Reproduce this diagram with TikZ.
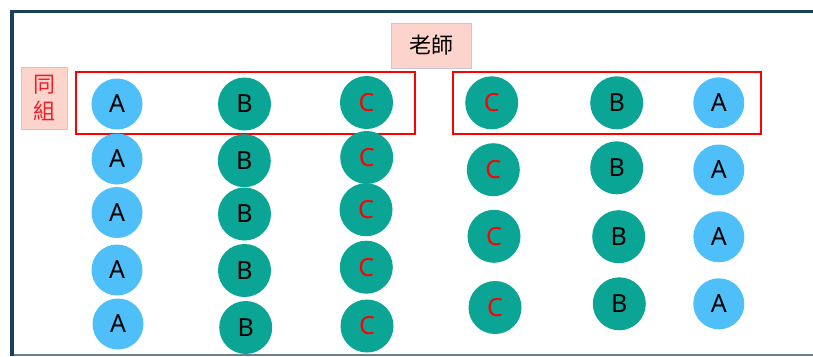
\documentclass[tikz,border=0pt]{standalone}
\usepackage{fontspec}
\setmainfont{Noto Sans}
\newfontfamily\cjk{Noto Sans CJK TC}
\definecolor{frameblue}{HTML}{1B3F5F}
\definecolor{framegray}{HTML}{6A8096}
\definecolor{lblue}{HTML}{4FBFFA}
\definecolor{teal2}{HTML}{0BA596}
\definecolor{peach}{HTML}{FDD4CC}
\definecolor{pborder}{HTML}{C9C6D6}
\definecolor{redtxt}{HTML}{F01E28}
\begin{document}
\begin{tikzpicture}[x=1pt,y=-1pt,
  ca/.style={circle,fill=lblue,minimum size=51pt,inner sep=0pt,text=black,font=\fontsize{25}{25}\selectfont},
  cb/.style={circle,fill=teal2,minimum size=53pt,inner sep=0pt,text=black,font=\fontsize{25}{25}\selectfont},
  cc/.style={circle,fill=teal2,minimum size=53pt,inner sep=0pt,text=red,font=\fontsize{25}{25}\selectfont},
  grp/.style={draw=red,line width=2pt},
  lab/.style={draw=pborder,fill=peach,line width=0.8pt}]
\useasboundingbox (0,0) rectangle (813,356);
% frame
\draw[framegray,line width=1.2pt] (10,355) -- (813,355);
\draw[frameblue,line width=3.5pt] (813,11.5) -- (12,11.5) -- (12,356);
% labels
\draw[lab] (391,23) rectangle (471,68);
\node[font=\cjk\fontsize{22}{22}\selectfont] (teacher) at (431,45.5) {老師};
\draw[lab] (21,67) rectangle (67,129);
\node[text=redtxt,align=center,font=\cjk\fontsize{22}{27}\selectfont] (same) at (44,98) {同\\組};
% group rectangles
\draw[grp] (76,72) rectangle (415,134);
\draw[grp] (453,72) rectangle (761,134);
% left block
\node[ca] (la1) at (117,104) {A};
\node[ca] (la2) at (117,159) {A};
\node[ca] (la3) at (117,212.5) {A};
\node[ca] (la4) at (117,270) {A};
\node[ca] (la5) at (118,324) {A};
\node[cb] (lb1) at (244.5,104) {B};
\node[cb] (lb2) at (244.3,160.7) {B};
\node[cb] (lb3) at (244.5,214) {B};
\node[cb] (lb4) at (244.5,270.5) {B};
\node[cb] (lb5) at (245.7,327.5) {B};
\node[cc] (lc1) at (366.5,102.5) {C};
\node[cc] (lc2) at (366.7,157.5) {C};
\node[cc] (lc3) at (366,209.7) {C};
\node[cc] (lc4) at (366.3,267.2) {C};
\node[cc] (lc5) at (367,326) {C};
% right block
\node[cc] (rc1) at (491.7,102.8) {C};
\node[cc] (rc2) at (493.3,169.7) {C};
\node[cc] (rc3) at (494,236.3) {C};
\node[cc] (rc4) at (495,307.5) {C};
\node[cb] (rb1) at (616.7,102.8) {B};
\node[cb] (rb2) at (616.7,167.8) {B};
\node[cb] (rb3) at (618.7,236.7) {B};
\node[cb] (rb4) at (619.3,303.8) {B};
\node[ca] (ra1) at (718.8,102.8) {A};
\node[ca] (ra2) at (718.8,170) {A};
\node[ca] (ra3) at (718.8,236.8) {A};
\node[ca] (ra4) at (718.8,303.8) {A};
\end{tikzpicture}
\end{document}
